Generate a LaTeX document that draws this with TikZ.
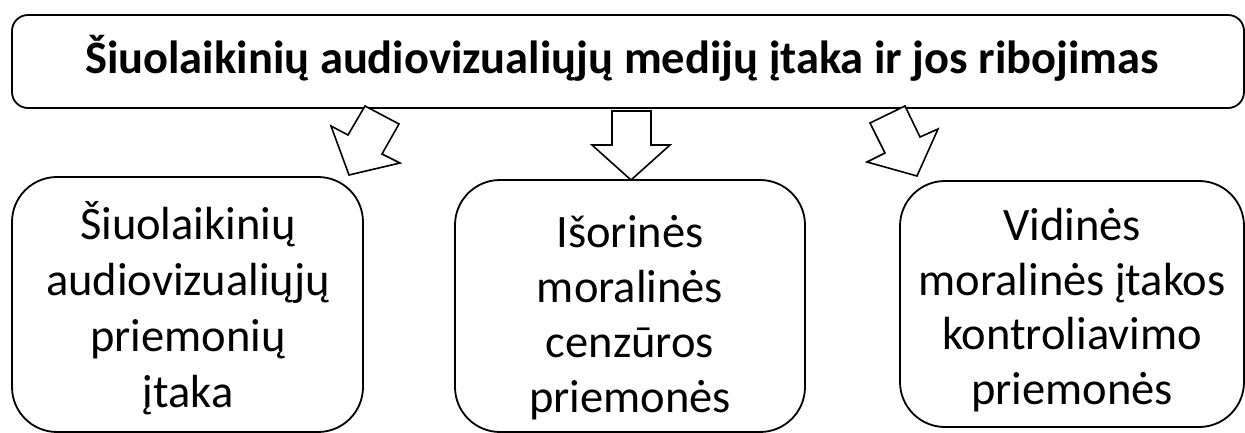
\documentclass[tikz,border=0pt]{standalone}
\usepackage{fontspec}
\setmainfont{Carlito}
\begin{document}
\begin{tikzpicture}[x=1pt,y=-1pt,
  box/.style={draw=black,line width=1.8pt,rounded corners=#1},
  boxtext/.style={align=center,inner sep=0pt,font=\fontsize{46.5}{#1}\selectfont},
  blockarrow/.style={draw=black,line width=1.6pt,fill=white,line join=miter}]
\useasboundingbox (0,0) rectangle (1245,433);
% title
\draw[box=16pt] (12,15) rectangle (1244,108);
\node[inner sep=0pt,anchor=base,font=\fontsize{46.5}{54}\selectfont\bfseries] (title) at (622,74) {Šiuolaikinių audiovizualiųjų medijų įtaka ir jos ribojimas};
% lower boxes
\draw[box=45pt] (12,177) rectangle (363,432);
\draw[box=45pt] (455,180) rectangle (805,432);
\draw[box=45pt] (900,181) rectangle (1244,427);
\node[boxtext=56,anchor=base] (b1) at (188,407) {Šiuolaikinių\\audiovizualiųjų\\priemonių\\įtaka};
\node[boxtext=55,anchor=base] (b2) at (630,412) {Išorinės\\moralinės\\cenzūros\\priemonės};
\node[boxtext=54.5,anchor=base] (b3) at (1072,404) {Vidinės\\moralinės įtakos\\kontroliavimo\\priemonės};
% block arrows
\draw[blockarrow] (365,106) -- (399,124) -- (382,154) -- (400,163) -- (349,175) -- (331,126) -- (348,135) -- cycle;
\draw[blockarrow] (612,111) -- (651,111) -- (651,145) -- (670,145) -- (631,180) -- (592,145) -- (612,145) -- cycle;
\draw[blockarrow] (905,106) -- (870,123) -- (885,153) -- (867,162) -- (917,176) -- (938,129) -- (920,137) -- cycle;
\end{tikzpicture}
\end{document}
